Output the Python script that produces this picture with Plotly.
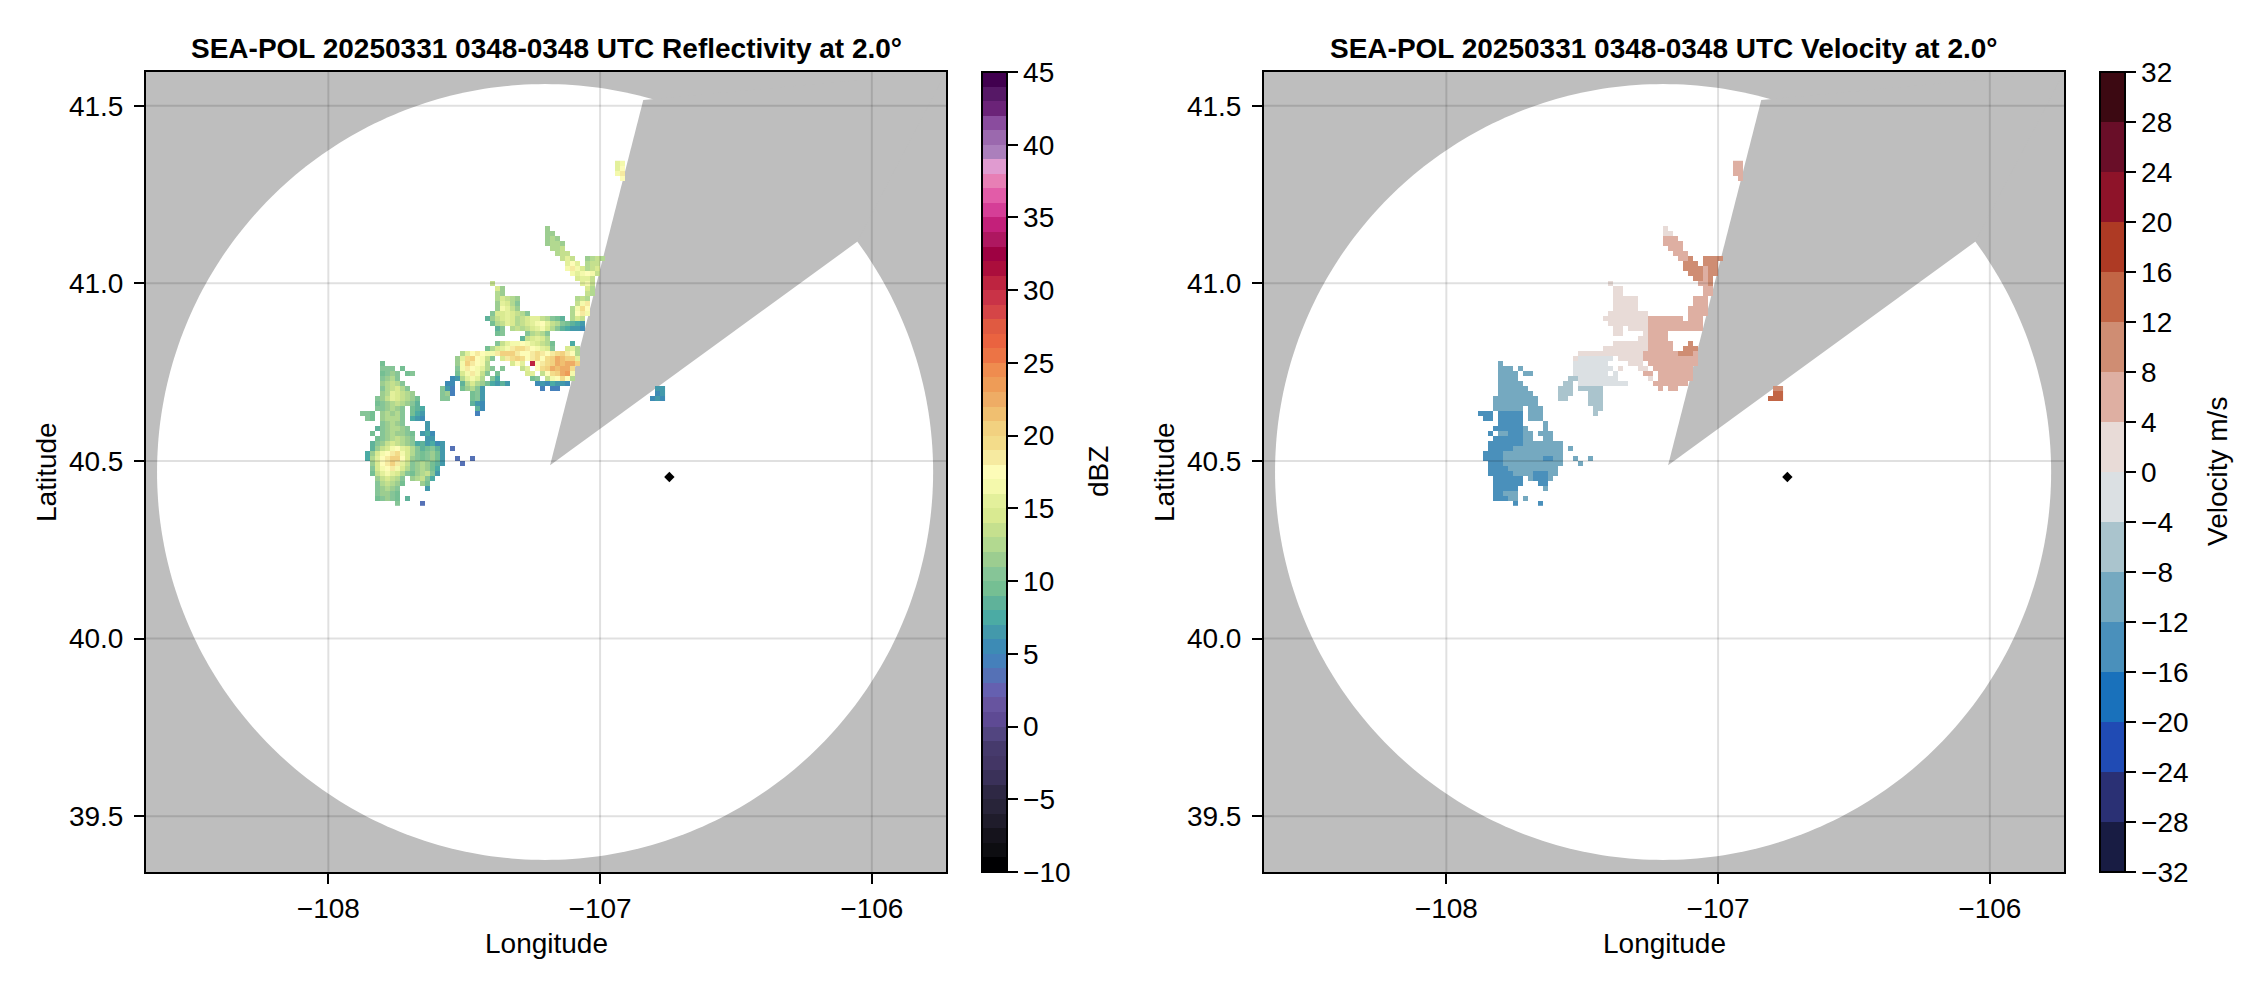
import numpy as np
import plotly.graph_objects as go

# radar gates binned on a coarse lon/lat grid
LON0, DLON = -107.8925, 0.0184
LAT0, DLAT = 41.155, 0.01408
FIRST_ROW, LAST_ROW = -13, 55
N_COLS = 62

# (row, first column, one base-36 dBZ digit per cell, "." = no echo)
refl_runs = [
    (-13, 52, "fg"), (-12, 52, "fh"), (-11, 52, "gi"), (-10, 53, "h"),
    (0, 38, "b"), (1, 38, "bb"), (2, 38, "bcb"), (3, 38, "bccb"), (4, 39, "ccd"),
    (5, 40, "cdd"), (6, 41, "dfd"), (6, 46, "bcdc"), (7, 42, "fhf"), (7, 46, "cdd"),
    (8, 42, "gige"), (8, 46, "cde"), (9, 43, "gfghgd"), (10, 44, "effd"),
    (11, 45, "fgd"), (11, 27, "d"), (12, 46, "ec"), (12, 28, "eb"), (13, 46, "dc"), (13, 28, "cb"),
    (14, 28, "cedcb"), (14, 44, "cdc"), (15, 28, "bfeca"), (15, 44, "dgi"),
    (16, 28, "bgfdb"), (16, 43, "cgjh"), (17, 27, "aeefedca"), (17, 43, "chig"),
    (18, 26, "8bdefecdeffdca98"), (18, 43, "ced"), (19, 27, "9cdfecdefghfdca9876"),
    (20, 28, "8a.cdcdefgeca87665"), (21, 28, "9a"), (21, 34, "acdca"), (22, 33, "8defec"),
    (23, 28, "adfgghgfedc9"), (23, 43, "7"), (24, 26, "9cefgijjihgfea"), (24, 42, "efc"),
    (25, 21, "cfhihggikkkihhijihijkihc"),
    (26, 20, "bfjkhgda"), (26, 29, "eijkjhijhjkmlkkf"),
    (27, 20, "bgkihgc"), (27, 31, "ehf.uhijkmlmmk"),
    (28, 20, "agihgfca"), (28, 29, "a"), (28, 33, "df.hjkmlmmj"),
    (29, 20, "9egigda"), (29, 28, "9"), (29, 34, "ef"), (29, 37, "dhjkmng"),
    (30, 19, "56"), (30, 21, "cfgfc.a7"), (30, 35, "9a.dghjhc"),
    (31, 18, "55"), (31, 21, "8cecb97686"), (31, 36, "5657665"),
    (32, 17, "a64"), (32, 21, "9bca6"), (32, 37, "4"), (32, 39, "44"),
    (33, 17, "ab4"), (33, 23, "9a6"), (34, 17, "aa"), (34, 23, "9a6"),
    (35, 23, "865"), (36, 24, "85"), (37, 24, "4"),
    (27, 5, "9"), (28, 5, "aaa"), (28, 9, "9"), (29, 5, "9aba"), (29, 10, "9a"),
    (30, 5, "abca"), (31, 5, "bcdca"), (32, 5, "acdeca"), (33, 5, "bcfedcb"),
    (34, 4, "abdfedcb9"), (35, 4, "9abcdcba8"), (36, 4, "aabcba"), (36, 11, "987"),
    (37, 1, "aa9"), (37, 5, "bcbca"), (37, 11, "976"), (38, 2, "a9"), (38, 5, "bccca"),
    (38, 11, "765"), (39, 5, "abcba"), (39, 14, "6"), (40, 4, "8abccba"), (40, 14, "6"),
    (41, 3, "9"), (41, 5, "abcbba9"), (41, 13, "675"), (42, 4, "9abcdcba"), (42, 14, "66"),
    (43, 3, "8abdedcba"), (43, 12, "786756"), (44, 3, "8bdeghfeca89a86"), (44, 19, "3"),
    (45, 2, "7beghijgeca9ab96"), (46, 2, "7cfhikkheba9ab96"), (46, 20, "3"), (46, 23, "3"),
    (47, 3, "behikifdabcb986"), (47, 21, "3"), (48, 3, "aeghigecabcb97"),
    (49, 3, "9dfgfeca9bcda6"), (50, 4, "bdedca"), (50, 11, "bcda7"),
    (51, 4, "acdcb9"), (51, 13, "b9"), (52, 4, "abcba"), (52, 14, "6"),
    (53, 4, "abba9"), (54, 4, "9aba9"), (54, 10, "8"), (55, 8, "a"), (55, 13, "3"),
    (32, 60, "66"), (33, 60, "56"), (34, 59, "565"),
]

# (row, first column, last column, m/s)
vel_runs = [
    (-13, 52, 53, 6), (-12, 52, 53, 6), (-11, 52, 53, 6), (-10, 53, 53, 6),
    (0, 38, 38, 2), (1, 38, 39, 2), (2, 38, 40, 6), (3, 38, 41, 6), (4, 39, 41, 6), (5, 40, 42, 6),
    (6, 41, 42, 6), (6, 43, 43, 10), (6, 46, 49, 10), (7, 42, 44, 10), (7, 46, 48, 10),
    (8, 42, 45, 10), (8, 46, 46, 6), (8, 47, 48, 10), (9, 43, 45, 10), (9, 46, 46, 6), (9, 47, 48, 10),
    (10, 44, 45, 10), (10, 46, 46, 6), (10, 47, 47, 10), (11, 45, 46, 6), (11, 47, 47, 10),
    (12, 46, 47, 6), (13, 46, 47, 6), (11, 27, 27, 2), (12, 28, 29, 2), (13, 28, 29, 2),
    (14, 28, 32, 2), (14, 44, 46, 6), (15, 28, 32, 2), (15, 44, 46, 6), (16, 28, 32, 2), (16, 43, 46, 6),
    (17, 27, 34, 2), (17, 43, 46, 6), (18, 26, 34, 2), (18, 35, 41, 6), (18, 43, 45, 6),
    (19, 27, 34, 2), (19, 35, 45, 6), (20, 28, 29, 2), (20, 31, 34, 2), (20, 35, 45, 6),
    (21, 28, 29, 2), (21, 34, 34, 2), (21, 35, 38, 6), (22, 33, 34, 2), (22, 35, 38, 6),
    (23, 28, 34, 2), (23, 35, 39, 6), (23, 43, 43, 10), (24, 26, 34, 2), (24, 35, 39, 6), (24, 42, 44, 10),
    (25, 21, 33, 2), (25, 34, 40, 6), (25, 41, 43, 10), (25, 44, 44, 6),
    (26, 20, 20, 2), (26, 21, 27, -2), (26, 29, 33, 2), (26, 34, 44, 6),
    (27, 20, 26, -2), (27, 31, 33, 2), (27, 35, 44, 6), (28, 20, 27, -2), (28, 29, 29, 2),
    (28, 33, 34, 2), (28, 36, 43, 6), (29, 20, 26, -2), (29, 28, 28, -2), (29, 34, 35, 6), (29, 37, 43, 6),
    (30, 19, 20, -6), (30, 21, 28, -2), (30, 35, 35, 2), (30, 37, 43, 6),
    (31, 18, 19, -6), (31, 21, 30, -2), (31, 36, 42, 6),
    (32, 17, 19, -6), (32, 21, 25, -6), (32, 37, 37, 6), (32, 39, 40, 6),
    (33, 17, 19, -6), (33, 23, 25, -6), (34, 17, 18, -6), (34, 23, 25, -6),
    (35, 23, 25, -6), (36, 24, 25, -6), (37, 24, 24, -6),
    (27, 5, 5, -10), (28, 5, 7, -10), (28, 9, 9, -10), (29, 5, 8, -10), (29, 10, 11, -10),
    (30, 5, 8, -10), (31, 5, 9, -10), (32, 5, 10, -10), (33, 5, 11, -10), (34, 4, 12, -10),
    (35, 4, 12, -10), (36, 4, 9, -10), (36, 11, 13, -10), (37, 1, 3, -14), (37, 5, 9, -14),
    (37, 11, 13, -10), (38, 2, 3, -14), (38, 5, 9, -14), (38, 11, 13, -10), (39, 5, 9, -14),
    (39, 14, 14, -10), (40, 4, 9, -14), (40, 10, 10, -10), (40, 14, 14, -10), (41, 3, 3, -14),
    (41, 5, 6, -10), (41, 7, 9, -14), (41, 10, 11, -10), (41, 13, 15, -10), (42, 4, 9, -14),
    (42, 10, 11, -10), (42, 14, 15, -10), (43, 3, 9, -14), (43, 10, 17, -10), (44, 3, 7, -14),
    (44, 8, 17, -10), (44, 19, 19, -10), (45, 2, 5, -14), (45, 6, 17, -10), (46, 2, 5, -14),
    (46, 6, 13, -10), (46, 14, 15, -14), (46, 16, 17, -10), (46, 20, 20, -10), (46, 23, 23, -10),
    (47, 3, 5, -14), (47, 6, 17, -10), (47, 21, 21, -10), (48, 3, 6, -14), (48, 7, 16, -10),
    (49, 3, 7, -14), (49, 8, 11, -10), (49, 12, 14, -14), (49, 15, 16, -10), (50, 4, 9, -14),
    (50, 11, 11, -10), (50, 12, 14, -14), (50, 15, 15, -10), (51, 4, 9, -14), (51, 13, 14, -14),
    (52, 4, 8, -14), (52, 14, 14, -10), (53, 4, 5, -14), (53, 6, 8, -10), (54, 4, 6, -14),
    (54, 7, 8, -10), (54, 10, 10, -10), (55, 8, 8, -14), (55, 13, 13, -14),
    (32, 60, 61, 10), (33, 60, 61, 14), (34, 59, 61, 14),
]

# one colour per 1 dBZ band, -10 upwards
refl_colors = [
    "#000002", "#0d0d11", "#15131c", "#1f1c2b", "#282439", "#2e2844", "#3a3159", "#433665",
    "#463a6c", "#524580", "#5e4a94", "#67549f", "#6560b0", "#5571b6", "#4580bb", "#3d8bb5",
    "#4399ab", "#4baba4", "#5fb29a", "#75bf93", "#86c597", "#9ccd90", "#b2d990", "#c5e08e",
    "#d9ea91", "#e3f09b", "#f4f9ac", "#fdfcb8", "#f6eaa0", "#f3dc8a", "#f2d180", "#f0bf70",
    "#eeac65", "#ee9c57", "#ef8c4f", "#ec7445", "#ea6340", "#e05a41", "#d54547", "#c93347",
    "#be2440", "#ab0e3c", "#9e0142", "#ae1760", "#c3207a", "#d53e97", "#e25ca8", "#e77fb5",
    "#e09bd0", "#ab7fbc", "#9b69ae", "#8a4c9e", "#6b2378", "#561866", "#41004f",
]
# one colour per 4 m/s band, -32 upwards
vel_colors = [
    "#181c43", "#2a3074", "#204bb4", "#1971bb", "#4a90bb", "#75a9c0", "#aac4cd", "#dbe0e3",
    "#e8dbd7", "#deafa2", "#cf8d73", "#c26545", "#ae3a24", "#8e1329", "#690e28", "#3c0912",
]

refl_ticks = list(range(-10, 46, 5))
vel_ticks = list(range(-32, 33, 4))
lon_ticks = [-108, -107, -106]
lat_ticks = [39.5, 40.0, 40.5, 41.0, 41.5]

lon_range = [-108.671, -105.727]
lat_range = [39.343, 41.595]

# edge of the scan and the blocked sector
disc_lon, disc_lat = -107.2024, 40.469
disc_lon_radius, disc_lat_radius = 1.428, 1.092
blocked_lon = [-107.184, -106.841, -105.727, -106.054]
blocked_lat = [40.488, 41.516, 41.595, 41.117]
site_lon, site_lat = [-106.745], [40.455]

FONT = "Liberation Sans"
FONT_SIZE = 28
GRAY = "#bebebe"
GRID = "rgba(0,0,0,0.12)"
TOP, BOTTOM = 72, 872
PLOT_H = BOTTOM - TOP


def refl_grid():
    z = np.full((LAST_ROW - FIRST_ROW + 1, N_COLS), np.nan)
    for row, col, digits in refl_runs:
        for i, ch in enumerate(digits):
            if ch != ".":
                z[row - FIRST_ROW, col + i] = int(ch, 36) + 0.5
    return z


def vel_grid():
    z = np.full((LAST_ROW - FIRST_ROW + 1, N_COLS), np.nan)
    for row, first, last, v in vel_runs:
        z[row - FIRST_ROW, first:last + 1] = v
    return z


def stepped(colors):
    n = len(colors)
    scale = []
    for i, c in enumerate(colors):
        scale.append([i / n, c])
        scale.append([(i + 1) / n, c])
    return scale


def polygon_path(xs, ys):
    pts = [f"{x:.4f},{y:.4f}" for x, y in zip(xs, ys)]
    return "M " + " L ".join(pts) + " Z"


lon_cells = LON0 + DLON * np.arange(N_COLS)
lat_cells = LAT0 - DLAT * np.arange(FIRST_ROW, LAST_ROW + 1)

W, H = 2262, 990
panels = [
    dict(x0=146, x1=946, cb=981.5, suffix="", z=refl_grid(), colors=refl_colors, zmin=-10, zmax=45,
         ticks=refl_ticks, title="SEA-POL 20250331 0348-0348 UTC Reflectivity at 2.0°",
         label="dBZ", label_x=1098),
    dict(x0=1264, x1=2064, cb=2099.5, suffix="2", z=vel_grid(), colors=vel_colors, zmin=-32, zmax=32,
         ticks=vel_ticks, title="SEA-POL 20250331 0348-0348 UTC Velocity at 2.0°",
         label="Velocity m/s", label_x=2217),
]

fig = go.Figure()
shapes, annotations = [], []
az = np.radians(np.arange(0, 360, 1))


def add_text(text, x_px, y_px, size=FONT_SIZE, angle=0):
    annotations.append(dict(xref="paper", yref="paper", x=x_px / W, y=(BOTTOM - y_px) / PLOT_H,
                            xanchor="center", yanchor="middle", showarrow=False, text=text,
                            textangle=angle, font=dict(family=FONT, size=size, color="black")))


for p in panels:
    xa, ya = "x" + p["suffix"], "y" + p["suffix"]
    fig.add_trace(go.Heatmap(
        x=lon_cells, y=lat_cells, z=p["z"], xaxis=xa, yaxis=ya,
        colorscale=stepped(p["colors"]), zmin=p["zmin"], zmax=p["zmax"], hoverongaps=False,
        colorbar=dict(
            x=p["cb"] / W, xanchor="left", xpad=0, y=0.5, yanchor="middle", ypad=0, len=1,
            thickness=25, outlinecolor="black", outlinewidth=2,
            tickmode="array", tickvals=p["ticks"], ticks="outside", ticklen=10, tickwidth=2,
            tickcolor="black", tickfont=dict(family=FONT, size=FONT_SIZE, color="black"),
        ),
    ))
    fig.add_trace(go.Scatter(
        x=site_lon, y=site_lat, xaxis=xa, yaxis=ya, mode="markers", showlegend=False,
        marker=dict(symbol="diamond", size=8, color="black"),
    ))

    axis_common = dict(showgrid=False, zeroline=False, showline=True, mirror=True, linecolor="black",
                       linewidth=2, ticks="outside", ticklen=10, tickwidth=2, tickcolor="black",
                       tickfont=dict(family=FONT, size=FONT_SIZE, color="black"))
    fig.update_layout({
        "xaxis" + p["suffix"]: dict(axis_common, domain=[p["x0"] / W, p["x1"] / W], range=lon_range,
                                    tickmode="array", tickvals=lon_ticks, anchor=ya),
        "yaxis" + p["suffix"]: dict(axis_common, domain=[0, 1], range=lat_range, tickmode="array",
                                    tickvals=lat_ticks, ticktext=[f"{t:.1f}" for t in lat_ticks],
                                    ticklabelstandoff=5, anchor=xa),
    })

    # scan area under the echoes
    shapes.append(dict(type="path", xref=xa, yref=ya, layer="below", fillcolor="white", line_width=0,
                       path=polygon_path(disc_lon + disc_lon_radius * np.sin(az),
                                         disc_lat + disc_lat_radius * np.cos(az))))
    shapes.append(dict(type="path", xref=xa, yref=ya, layer="below", fillcolor=GRAY, line_width=0,
                       path=polygon_path(blocked_lon, blocked_lat)))
    # grid sits on top of the white and gray
    for t in lon_ticks:
        shapes.append(dict(type="line", xref=xa, yref=ya, layer="above", x0=t, x1=t,
                           y0=lat_range[0], y1=lat_range[1], line=dict(color=GRID, width=2)))
    for t in lat_ticks:
        shapes.append(dict(type="line", xref=xa, yref=ya, layer="above", y0=t, y1=t,
                           x0=lon_range[0], x1=lon_range[1], line=dict(color=GRID, width=2)))

    mid = (p["x0"] + p["x1"]) / 2
    add_text(f"<b>{p['title']}</b>", mid, 49)
    add_text("Longitude", mid, 943)
    add_text("Latitude", p["x0"] - 100, 472, angle=-90)
    add_text(p["label"], p["label_x"], 472, angle=-90)

fig.update_layout(
    width=W, height=H, autosize=False, showlegend=False,
    margin=dict(l=0, r=0, t=TOP, b=H - BOTTOM, pad=0),
    paper_bgcolor="white", plot_bgcolor=GRAY,
    shapes=shapes, annotations=annotations,
)

fig.write_html("out.html", config={"displayModeBar": False},
               post_script="document.body.style.margin='0';")
